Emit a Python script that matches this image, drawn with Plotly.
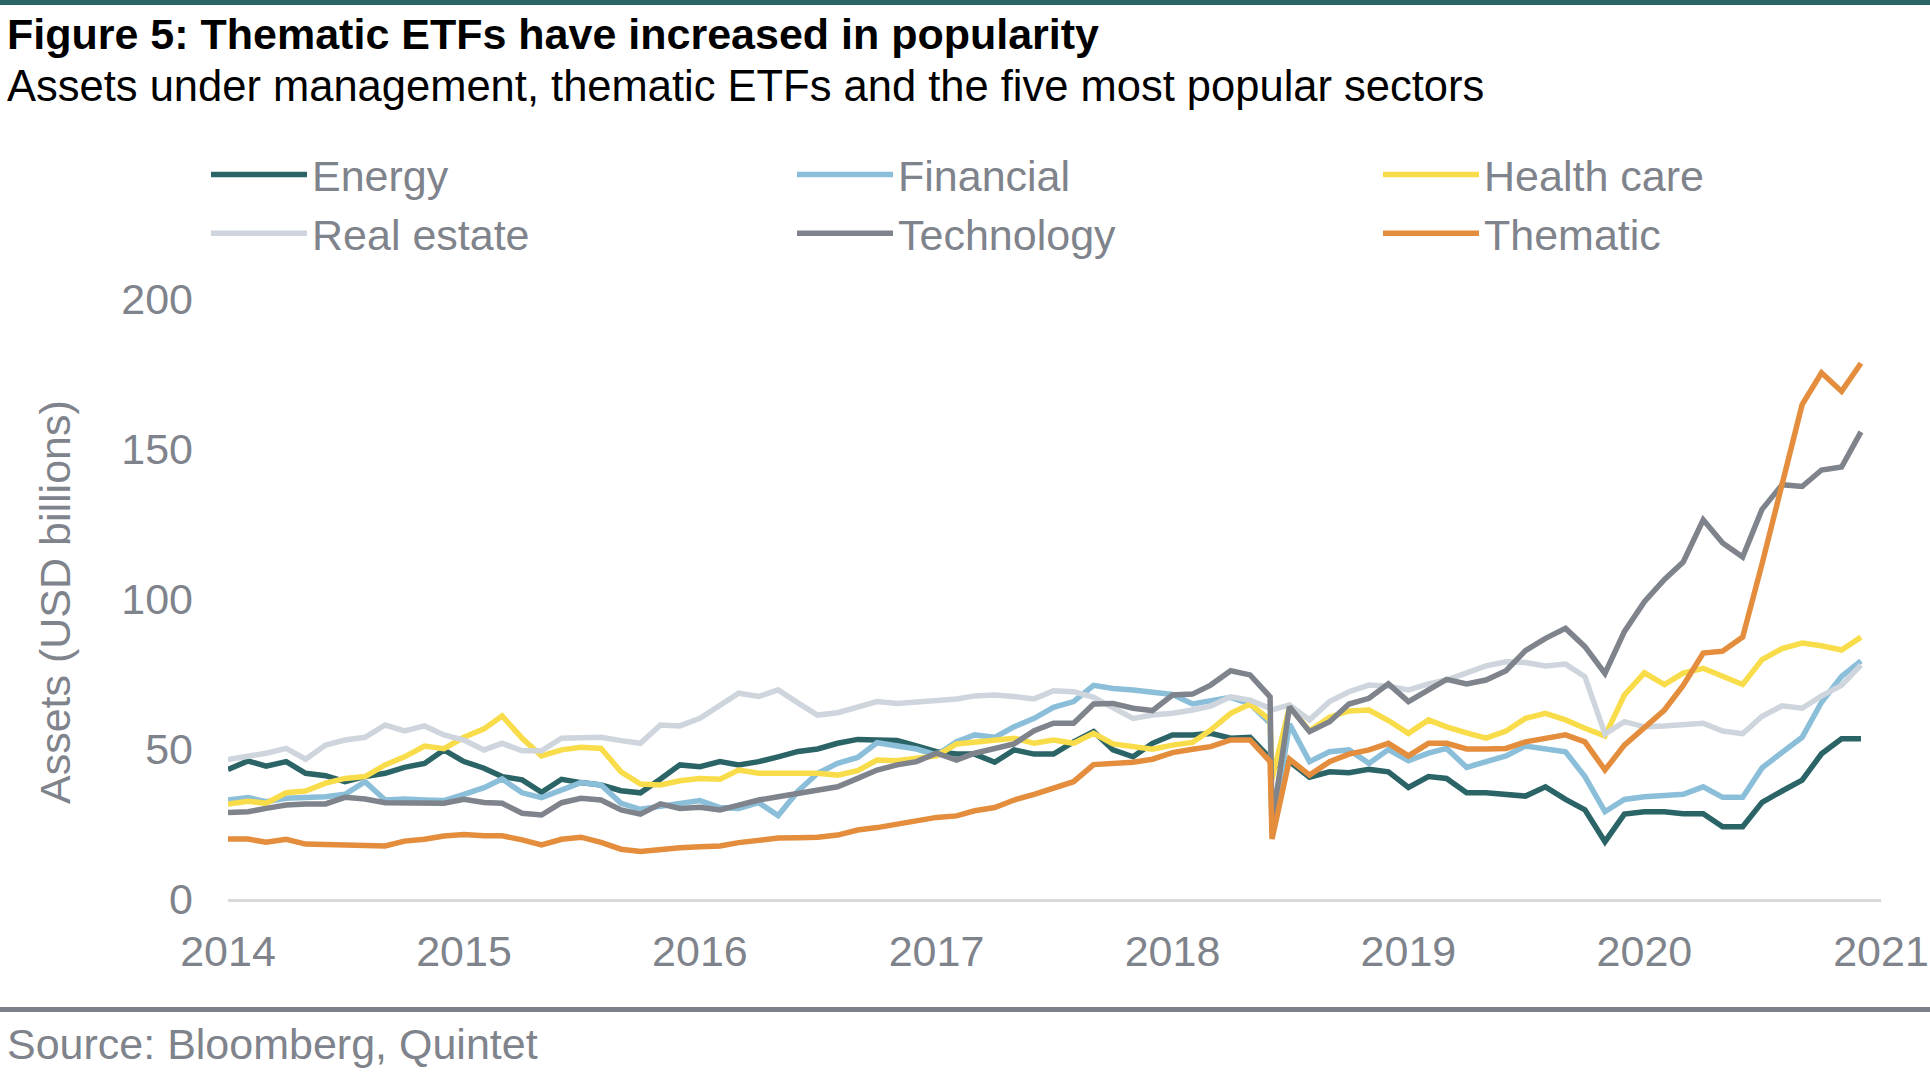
import pandas as pd
import plotly.graph_objects as go

# ---- Data (USD billions), monthly Jan 2014 - Dec 2020, plus one glitch point in June 2018 ----
months = [d.strftime("%Y-%m-%d") for d in pd.date_range("2014-01-01", periods=84, freq="MS")]
glitch_date = "2018-06-04"
glitch_after = 53  # index of 2018-06-01

energy = [43.2, 46, 44.3, 45.8, 41.9, 41.1, 39.1, 40.8, 41.9, 43.9, 45.2, 49.7,
          45.8, 43.6, 40.8, 39.7, 35.6, 39.9, 38.8, 38, 36.1, 35.4, 40, 44.7,
          44.1, 45.8, 44.7, 45.8, 47.4, 49.2, 50, 51.9, 53.2, 53.2, 52.8, 51,
          49.1, 48.3, 48.3, 45.6, 49.7, 48.3, 48.3, 52.4, 55.8, 49.7, 47.4, 51.9,
          54.7, 54.7, 55.2, 53.6, 53.9, 46.9, 45.8, 40.6, 42.4, 42.1, 43.2, 42.4,
          37.2, 40.8, 40.2, 35.4, 35.4, 34.7, 34.3, 37.4, 33.2, 29.7, 19.1, 28.3,
          29.1, 29.1, 28.4, 28.4, 24.1, 24.1, 32.2, 36, 39.6, 48.4, 53.4, 53.4]
financial = [33, 33.8, 32.4, 33.6, 33.8, 34.1, 34.9, 39.1, 33, 33.3, 33, 32.8,
             34.9, 37.1, 40, 35.4, 33.8, 36.3, 38.8, 38, 31.9, 29.9, 31, 31.9,
             32.8, 30.5, 30.2, 32.1, 27.8, 36, 41.9, 45.2, 47.2, 52.1, 51.1, 50,
             48, 52.4, 54.7, 53.9, 57.4, 60.2, 63.9, 65.8, 71.2, 70.2, 69.7, 69.1,
             68.2, 65, 66.1, 67.2, 65, 58.6, 58.3, 45.8, 49.1, 49.7, 45.2, 49.8,
             46.1, 48.6, 50.2, 43.9, 45.8, 47.7, 51, 50.2, 49.1, 40.8, 29.1, 33.2,
             34.1, 34.5, 34.9, 37.4, 33.9, 33.9, 43.7, 48.9, 53.9, 65.6, 74.2, 79.4]
health_care = [31.7, 32.6, 31.9, 35.4, 36, 38.6, 40.2, 40.8, 44.7, 47.4, 51, 50.1,
               53.9, 56.7, 61, 53.6, 47.7, 49.7, 50.6, 50.2, 42.4, 38.3, 38, 39.4,
               40.2, 39.9, 43, 41.9, 41.9, 41.9, 41.9, 41.3, 42.8, 46.3, 46.1, 46.9,
               47.7, 51.7, 52.4, 53, 53.6, 51.9, 53, 51.9, 55.2, 51.7, 50.8, 49.9,
               51.3, 52.2, 56.3, 61.9, 65, 59.7, 64.1, 56.1, 60.6, 62.7, 63, 59.5,
               55.2, 59.7, 57.4, 55.4, 53.6, 56, 60.2, 61.9, 59.7, 56.9, 54.3, 68,
               75.4, 71.5, 75.3, 76.9, 74.2, 71.5, 79.8, 83.5, 85.3, 84.4, 83, 87.3]
real_estate = [46.5, 47.4, 48.6, 50.2, 46.6, 51.3, 53, 53.9, 58, 56, 57.7, 54.7,
               53, 49.7, 51.9, 49.4, 49.4, 53.6, 53.9, 53.9, 52.8, 51.9, 58, 57.7,
               60.2, 64.7, 68.6, 67.5, 69.7, 65.3, 61.3, 62.1, 63.9, 65.8, 65.2, 65.8,
               66, 66.7, 67.7, 68, 67.5, 66.7, 69.4, 69.1, 67.2, 63.5, 60.2, 61.3,
               61.9, 63, 64.3, 67.4, 66.3, 63.5, 64.7, 59.7, 65.8, 69.1, 71.3, 70.9,
               69.7, 71.7, 73, 75.2, 77.7, 79.1, 78.8, 77.7, 78.3, 74.1, 55, 59.1,
               57.4, 57.7, 58.1, 58.6, 56, 55.1, 60.9, 64.4, 63.6, 67.7, 71.2, 78]
technology = [28.8, 29.1, 30.2, 31.3, 31.7, 31.7, 33.9, 33.3, 32.1, 31.9, 31.7, 31.9,
              33.2, 32.2, 31.9, 28.6, 28, 32.1, 33.6, 33, 29.7, 28.3, 31.7, 30.2,
              30.6, 29.7, 31.3, 33, 34.1, 35.2, 36.3, 37.4, 40.2, 43, 44.7, 45.8,
              48.6, 46.3, 48.6, 50.2, 51.7, 56.1, 58.6, 58.6, 65, 65.2, 63.6, 62.8,
              68, 68.3, 71.3, 76.1, 74.7, 67.4, 64.1, 55.8, 59.1, 65, 66.9, 71.7,
              65.8, 69.9, 73.2, 71.7, 73, 76.1, 82.8, 86.9, 90.2, 84.1, 75.2, 89.1,
              99.1, 106.5, 112.3, 126.4, 118.7, 114, 129.9, 138.1, 137.5, 143, 144, 155.7]
thematic = [20, 20, 18.9, 19.9, 18.3, 18.2, 18.2, 18.2, 17.7, 19.3, 19.9, 21,
            21.5, 21.1, 21.1, 19.7, 18, 19.9, 20.6, 18.9, 16.6, 15.8, 16.6, 17.1,
            17.4, 17.7, 18.8, 19.7, 20.3, 20.4, 20.6, 21.3, 23, 23.8, 25, 25.8,
            27.2, 27.7, 29.4, 30.5, 33, 34.9, 37.2, 39.1, 44.8, 45.2, 45.6, 46.6,
            48.8, 49.9, 50.8, 53, 53, 45.8, 46.6, 41.3, 45.8, 48.3, 49.7, 51.9,
            47.7, 51.9, 51.9, 50, 50, 50.2, 52.4, 53.6, 54.7, 52.4, 43, 51.3,
            57.4, 63, 71.2, 82, 82.6, 87.3, 111.7, 138.1, 164.8, 175.4, 169.2, 178.6]

# glitch values (June 2018 data artefact)
glitch = {"Energy": 44, "Financial": 22, "Health care": 40,
          "Real estate": 63, "Technology": 25, "Thematic": 20}

series_names = ["Energy", "Financial", "Health care", "Real estate", "Technology", "Thematic"]
series_values = [energy, financial, health_care, real_estate, technology, thematic]
colors = ["#2b6466", "#8bbfd9", "#f9dc4a", "#cfd5dd", "#7f838b", "#e48d3d"]

x_ticks = ["2014", "2015", "2016", "2017", "2018", "2019", "2020", "2021"]
y_ticks = [0, 50, 100, 150, 200]

FONT = "Liberation Sans, Arial, Helvetica, sans-serif"
GRAY = "#7f838b"

W, H = 1930, 1090
L, R, T, B = 228, 49, 299, 191
PW, PH = W - L - R, H - T - B


def px_x(px):
    return (px - L) / PW


def px_y(py):
    return (H - B - py) / PH


fig = go.Figure()
for name, vals, col in zip(series_names, series_values, colors):
    xs = months[:glitch_after + 1] + [glitch_date] + months[glitch_after + 1:]
    ys = vals[:glitch_after + 1] + [glitch[name]] + vals[glitch_after + 1:]
    fig.add_trace(go.Scatter(x=xs, y=ys, mode="lines", name=name,
                             line=dict(color=col, width=5.5), hoverinfo="x+y+name"))

fig.update_layout(
    width=W, height=H,
    margin=dict(l=L, r=R, t=T, b=B, pad=0, autoexpand=False),
    paper_bgcolor="white", plot_bgcolor="white",
    font=dict(family=FONT, size=43, color=GRAY),
    showlegend=True,
    legend=dict(orientation="h", x=px_x(206), xanchor="left",
                y=px_y(140), yanchor="top",
                entrywidth=475, entrywidthmode="pixels",
                itemwidth=96, font=dict(family=FONT, size=43, color=GRAY),
                bgcolor="rgba(0,0,0,0)", traceorder="normal"),
    xaxis=dict(type="date", range=["2014-01-01", "2021-01-01"],
               tickmode="array", tickvals=[f"{t}-01-01" for t in x_ticks], ticktext=x_ticks,
               showgrid=False, zeroline=False, showline=True, linecolor="#d9d9d9", linewidth=3,
               ticks="", ticklabelstandoff=12, tickfont=dict(size=43, color=GRAY)),
    yaxis=dict(range=[0, 200], tickvals=y_ticks, showgrid=False, zeroline=False,
               showline=False, ticks="", ticklabelstandoff=34,
               tickfont=dict(size=43, color=GRAY)),
    annotations=[
        dict(text="<b>Figure 5: Thematic ETFs have increased in popularity</b>",
             xref="paper", yref="paper", x=px_x(5), y=px_y(34), xanchor="left", yanchor="middle",
             showarrow=False, font=dict(family=FONT, size=43, color="#000000")),
        dict(text="Assets under management, thematic ETFs and the five most popular sectors",
             xref="paper", yref="paper", x=px_x(5), y=px_y(86), xanchor="left", yanchor="middle",
             showarrow=False, font=dict(family=FONT, size=43.5, color="#000000")),
        dict(text="Assets (USD billions)", textangle=-90,
             xref="paper", yref="paper", x=px_x(55), y=px_y(602), xanchor="center", yanchor="middle",
             showarrow=False, font=dict(family=FONT, size=43, color=GRAY)),
        dict(text="Source: Bloomberg, Quintet",
             xref="paper", yref="paper", x=px_x(5), y=px_y(1044), xanchor="left", yanchor="middle",
             showarrow=False, font=dict(family=FONT, size=43, color=GRAY)),
    ],
    shapes=[
        dict(type="rect", xref="paper", yref="paper", x0=px_x(0), x1=px_x(W),
             y0=px_y(5), y1=px_y(0), fillcolor="#2b6466", line=dict(width=0), layer="above"),
        dict(type="rect", xref="paper", yref="paper", x0=px_x(0), x1=px_x(W),
             y0=px_y(1012), y1=px_y(1007), fillcolor="#7d8089", line=dict(width=0), layer="above"),
    ],
)

fig.write_html("out.html", config={"displayModeBar": False},
               post_script="document.body.style.margin='0';document.body.style.overflow='hidden';")
